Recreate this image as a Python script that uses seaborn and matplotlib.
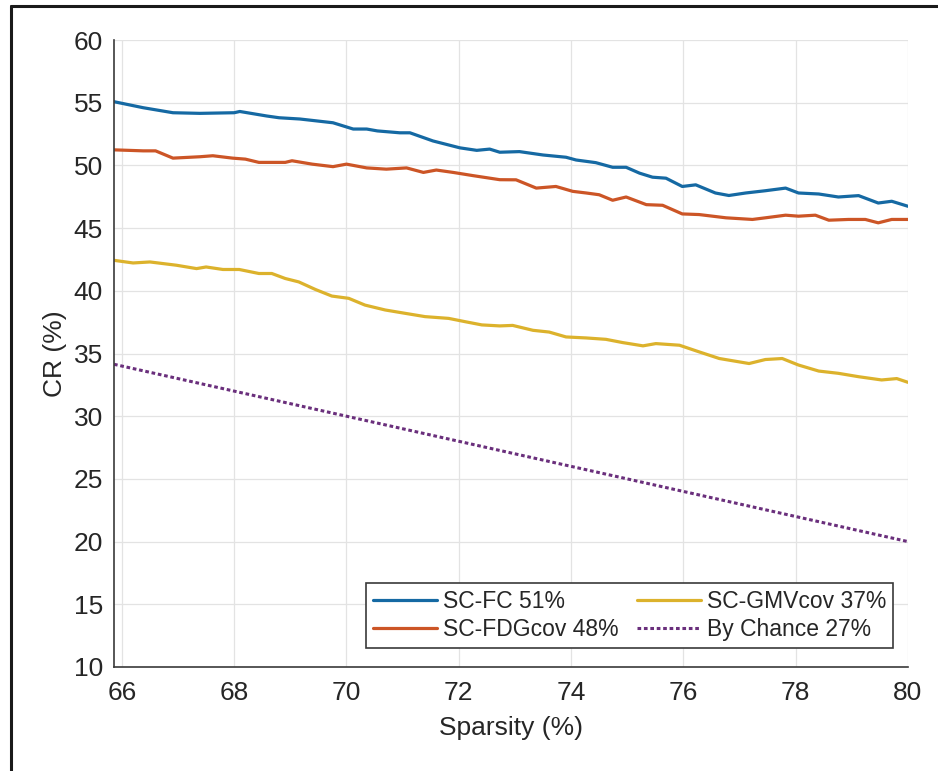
import matplotlib
matplotlib.use("Agg")
import matplotlib.pyplot as plt
from matplotlib.lines import Line2D
import seaborn as sns

sns.set_theme(style="whitegrid")
plt.rcParams['font.family'] = ['Liberation Sans', 'DejaVu Sans']

# sparsity (%) / CR (%)
fc_x = [65.86, 66.38, 66.91, 67.39, 68.0, 68.1, 68.58, 68.8, 69.17, 69.76, 70.12,
        70.36, 70.55, 70.95, 71.13, 71.54, 72.02, 72.32, 72.55, 72.73, 73.08, 73.5,
        73.91, 74.09, 74.44, 74.74, 74.98, 75.22, 75.45, 75.69, 75.98, 76.22, 76.57,
        76.81, 77.11, 77.46, 77.82, 78.05, 78.41, 78.76, 79.12, 79.47, 79.71, 80.0]
fc_y = [55.08, 54.6, 54.2, 54.15, 54.2, 54.3, 53.94, 53.8, 53.7, 53.4, 52.9,
        52.9, 52.75, 52.6, 52.6, 51.95, 51.4, 51.2, 51.3, 51.05, 51.1, 50.83,
        50.65, 50.43, 50.22, 49.85, 49.85, 49.38, 49.06, 48.98, 48.32, 48.45, 47.8,
        47.6, 47.8, 47.98, 48.19, 47.8, 47.72, 47.48, 47.59, 47.0, 47.14, 46.74]

fdg_x = [65.86, 66.38, 66.6, 66.91, 67.39, 67.62, 67.97, 68.2, 68.44, 68.91, 69.03,
         69.39, 69.76, 70.0, 70.36, 70.71, 71.07, 71.37, 71.6, 71.9, 72.26, 72.73,
         73.02, 73.38, 73.73, 74.03, 74.27, 74.5, 74.74, 74.98, 75.34, 75.63, 75.98,
         76.28, 76.76, 77.23, 77.46, 77.82, 78.05, 78.35, 78.59, 78.94, 79.24, 79.47,
         79.71, 80.0]
fdg_y = [51.24, 51.16, 51.16, 50.58, 50.69, 50.77, 50.58, 50.5, 50.24, 50.24, 50.37,
         50.1, 49.9, 50.1, 49.8, 49.7, 49.8, 49.44, 49.63, 49.44, 49.18, 48.86,
         48.85, 48.19, 48.32, 47.93, 47.8, 47.66, 47.22, 47.48, 46.87, 46.82, 46.13,
         46.08, 45.82, 45.69, 45.82, 46.03, 45.95, 46.03, 45.63, 45.69, 45.69, 45.42,
         45.69, 45.69]

gmv_x = [65.86, 66.2, 66.5, 66.97, 67.33, 67.5, 67.8, 68.09, 68.44, 68.67, 68.91,
         69.15, 69.45, 69.74, 70.04, 70.33, 70.69, 71.05, 71.4, 71.82, 72.11, 72.41,
         72.73, 72.96, 73.32, 73.61, 73.91, 74.27, 74.62, 74.92, 75.28, 75.51, 75.93,
         76.28, 76.64, 77.17, 77.46, 77.76, 78.05, 78.41, 78.76, 79.12, 79.53, 79.8, 80.0]
gmv_y = [42.43, 42.22, 42.3, 42.04, 41.77, 41.9, 41.7, 41.7, 41.38, 41.38, 40.98,
         40.71, 40.1, 39.58, 39.4, 38.86, 38.47, 38.2, 37.94, 37.8, 37.54, 37.28,
         37.2, 37.24, 36.85, 36.71, 36.32, 36.24, 36.13, 35.87, 35.61, 35.79, 35.66,
         35.13, 34.6, 34.2, 34.52, 34.6, 34.08, 33.6, 33.42, 33.15, 32.89, 33.0, 32.7]

chance_x = [65.86, 68, 70, 72, 74, 76, 78, 80]
chance_y = [34.14, 32, 30, 28, 26, 24, 22, 20]

labels = ["SC-FC 51%", "SC-FDGcov 48%", "SC-GMVcov 37%", "By Chance 27%"]
colors = ["#1569a3", "#cc5526", "#dcb22c", "#6a2f7c"]

fig = plt.figure(figsize=(9.38, 7.71), dpi=100)
ax = fig.add_axes([114 / 938, 1 - 667 / 771, 794 / 938, 627 / 771])
ax.set_facecolor("white")

lw = 2.3
sns.lineplot(x=fc_x, y=fc_y, ax=ax, color=colors[0], lw=lw, label=labels[0], sort=False)
sns.lineplot(x=fdg_x, y=fdg_y, ax=ax, color=colors[1], lw=lw, label=labels[1], sort=False)
sns.lineplot(x=gmv_x, y=gmv_y, ax=ax, color=colors[2], lw=lw, label=labels[2], sort=False)
sns.lineplot(x=chance_x, y=chance_y, ax=ax, color=colors[3], lw=2.2,
             ls=(0, (1.2, 0.9)), label=labels[3], sort=False)

ax.set_xlim(65.86, 80)
ax.set_ylim(10, 60)
ax.set_xticks(range(66, 81, 2))
ax.set_yticks(range(10, 61, 5))
ax.grid(True, color="#e3e3e3", lw=0.9)

for side in ["top", "right"]:
    ax.spines[side].set_visible(False)
for side in ["left", "bottom"]:
    ax.spines[side].set_visible(True)
    ax.spines[side].set_color("#3a3a3a")
    ax.spines[side].set_linewidth(1.2)

ax.tick_params(axis="both", direction="in", length=5, width=1.1, color="#3a3a3a",
               labelsize=19, labelcolor="#262626")
ax.tick_params(axis="x", pad=10)
ax.tick_params(axis="y", pad=8)

ax.set_xlabel("Sparsity (%)", fontsize=19, color="#262626", labelpad=8)
ax.set_ylabel("CR (%)", fontsize=19, color="#262626", labelpad=5)

leg = ax.legend(loc="lower right", bbox_to_anchor=(0.981, 0.03), ncol=2,
                fontsize=16.5, frameon=True, fancybox=False, framealpha=1,
                edgecolor="#3a3a3a", handlelength=2.8, handletextpad=0.25,
                columnspacing=0.8, borderaxespad=0, borderpad=0.3, labelspacing=0.25)
leg.get_frame().set_linewidth(1.2)
for t in leg.get_texts():
    t.set_color("#262626")

# outer frame lines (top and left)
fig.add_artist(Line2D([11 / 938, 1], [1 - 6 / 771, 1 - 6 / 771], color="#1a1a1a", lw=2.2))
fig.add_artist(Line2D([11 / 938, 11 / 938], [0, 1 - 6 / 771], color="#1a1a1a", lw=2.2))

fig.savefig("out.png", dpi=100, facecolor="white")
